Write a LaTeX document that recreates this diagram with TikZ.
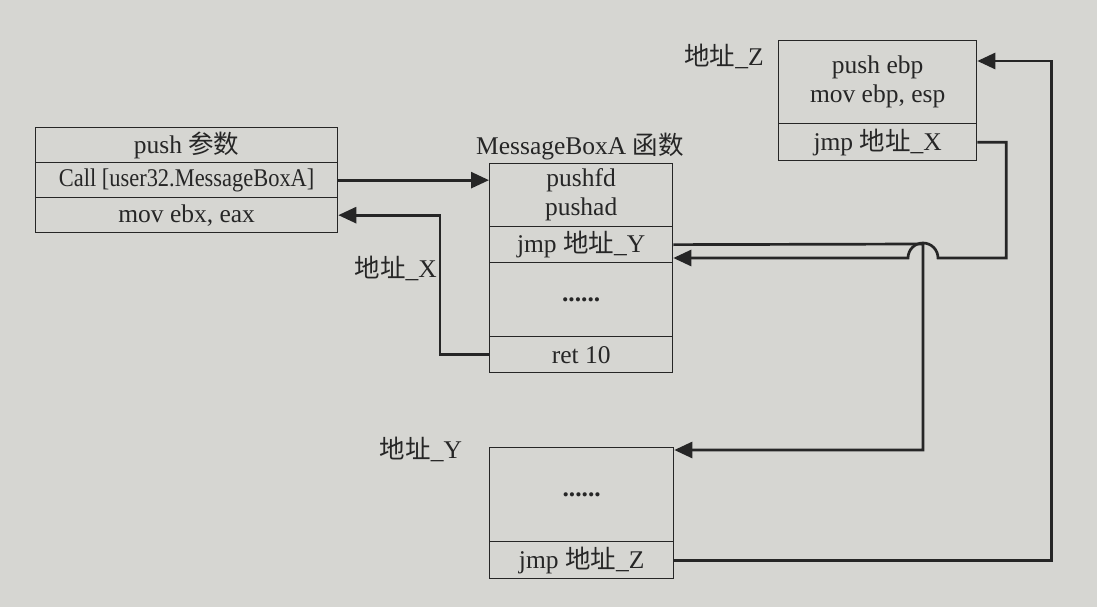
\documentclass[tikz,border=0pt]{standalone}
\usepackage{fontspec}
\setmainfont{Liberation Serif}
\newfontfamily\cjk{Noto Sans CJK SC}
\usetikzlibrary{arrows.meta}
\newcommand\zh[1]{{\cjk #1}}
\definecolor{bg}{HTML}{D6D6D2}
\definecolor{ink}{HTML}{262626}
\begin{document}
\begin{tikzpicture}[x=1pt,y=-1pt,
  row/.style={draw=ink, line width=1.3pt, anchor=north west, inner sep=0pt,
    align=center, text=ink, font=\fontsize{25.5}{29}\selectfont},
  lbl/.style={text=ink, inner sep=0pt, font=\fontsize{25.5}{29}\selectfont},
  conn/.style={draw=ink, line width=2.7pt},
  arr/.style={conn, -{Triangle[length=18pt,width=16pt]}}]
\fill[bg] (0,0) rectangle (1097,607);
\useasboundingbox (0,0) rectangle (1097,607);

% left box
\node[row, minimum width=302pt, minimum height=35pt] (L1) at (35,127) {push \zh{参数}};
\node[row, minimum width=302pt, minimum height=35pt] (L2) at (35,162) {\scalebox{0.88}[1]{Call [user32.MessageBoxA]}};
\node[row, minimum width=302pt, minimum height=35pt] (L3) at (35,197) {mov ebx, eax};

% MessageBoxA box
\node[lbl] (lm) at (580,147) {MessageBoxA \zh{函数}};
\node[row, minimum width=183pt, minimum height=63pt] (M1) at (489,163) {pushfd\\pushad};
\node[row, minimum width=183pt, minimum height=36pt] (M2) at (489,226) {jmp \zh{地址}\_Y};
\node[row, minimum width=183pt, minimum height=74pt] (M3) at (489,262) {\textbf{......}};
\node[row, minimum width=183pt, minimum height=36pt] (M4) at (489,336) {ret 10};

% Z box
\node[lbl] (lz) at (724,56) {\zh{地址}\_Z};
\node[row, minimum width=198pt, minimum height=83pt] (Z1) at (778,40) {push ebp\\mov ebp, esp};
\node[row, minimum width=198pt, minimum height=37pt] (Z2) at (778,123) {jmp \zh{地址}\_X};

% Y box
\node[lbl] (ly) at (421,449) {\zh{地址}\_Y};
\node[row, minimum width=184pt, minimum height=94pt] (Y1) at (489,447) {\textbf{......}};
\node[row, minimum width=184pt, minimum height=37pt] (Y2) at (489,541) {jmp \zh{地址}\_Z};

\node[lbl, anchor=east] (lx) at (437,268) {\zh{地址}\_X};

% connectors
\draw[arr] (L2.east) -- (L2.east -| M1.west);
\draw[arr] (M4.west) -- ++(-49,0) |- (L3.east);
\draw[arr] (M2.east) -- (923,244) |- ([yshift=-3pt]Y1.north east);
\draw[arr] (Z2.east) -- ++(29,0) |- (938,258)
  arc[start angle=0, end angle=-180, radius=15] -- ([yshift=4pt]M3.north east);
\draw[arr] (Y2.east) -- ++(377,0) |- ([yshift=-21pt]Z1.north east);
\end{tikzpicture}
\end{document}
